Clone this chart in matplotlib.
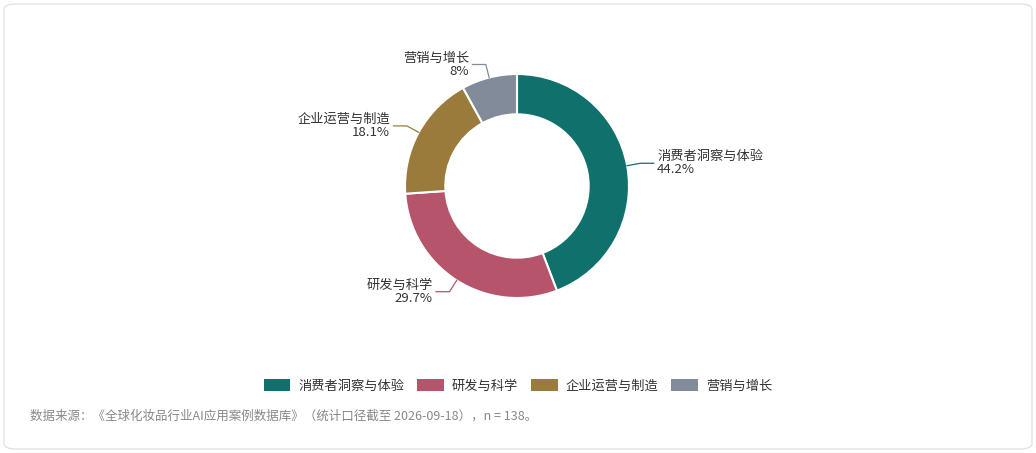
import numpy as np
import matplotlib.pyplot as plt
from matplotlib.patches import FancyBboxPatch

plt.rcParams['font.family'] = ['Noto Sans CJK SC', 'DejaVu Sans']

categories = ['消费者洞察与体验', '研发与科学', '企业运营与制造', '营销与增长']
shares = [44.2, 29.7, 18.1, 8.0]
colors = ['#10716c', '#b5546a', '#9a7b3c', '#818b99']
source = '数据来源：《全球化妆品行业AI应用案例数据库》（统计口径截至 2026-09-18），n = 138。'

W, H = 1036, 453
fig = plt.figure(figsize=(W / 100, H / 100), dpi=100)
fig.patch.set_facecolor('white')
card = FancyBboxPatch((4 / W, 4 / H), 1 - 8 / W, 1 - 8 / H, boxstyle='round,pad=0,rounding_size=0.012',
                      transform=fig.transFigure, facecolor='white', edgecolor='#e3e3e3', lw=1, zorder=-10)
fig.patches.append(card)

cx, cy, half = 517, H - 186, 140
ax = fig.add_axes([(cx - half) / W, (cy - half) / H, 2 * half / W, 2 * half / H])
ax.set_zorder(1)
ax.patch.set_alpha(0)
lim = half / 129
ax.set_xlim(-lim, lim)
ax.set_ylim(-lim, lim)
ax.set_aspect('equal')
ax.axis('off')

wedges, _ = ax.pie(shares, colors=colors, startangle=90, counterclock=False, radius=1,
                   wedgeprops=dict(width=0.36, edgecolor='white', linewidth=1.5))

# leader lines and labels
for w, cat, val, col in zip(wedges, categories, shares, colors):
    ang = np.deg2rad((w.theta1 + w.theta2) / 2)
    x0, y0 = np.cos(ang), np.sin(ang)
    x1, y1 = 1.12 * x0, 1.12 * y0
    side = 1 if x0 > 0 else -1
    x2 = x1 + side * 0.12
    ax.plot([x0, x1, x2], [y0, y1, y1], color=col, lw=0.9, clip_on=False)
    txt = f'{cat}\n{val:g}%'
    ax.text(x2 + side * 0.03, y1, txt, ha='left' if side > 0 else 'right', va='center',
            fontsize=9.5, color='#333333', linespacing=1.0, clip_on=False)

# legend
handles = [plt.Rectangle((0, 0), 1, 1, facecolor=c, edgecolor='none') for c in colors]
fig.legend(handles, categories, loc='center', bbox_to_anchor=(0.5, 1 - 386 / H), ncol=4,
           frameon=False, fontsize=9.5, handlelength=2.0, handleheight=1.0, columnspacing=1.0,
           handletextpad=0.6, labelcolor='#333333')

fig.text(30 / W, 1 - 416 / H, source, fontsize=9, color='#888888', va='center', ha='left')

fig.savefig('out.png', dpi=100, facecolor='white')
